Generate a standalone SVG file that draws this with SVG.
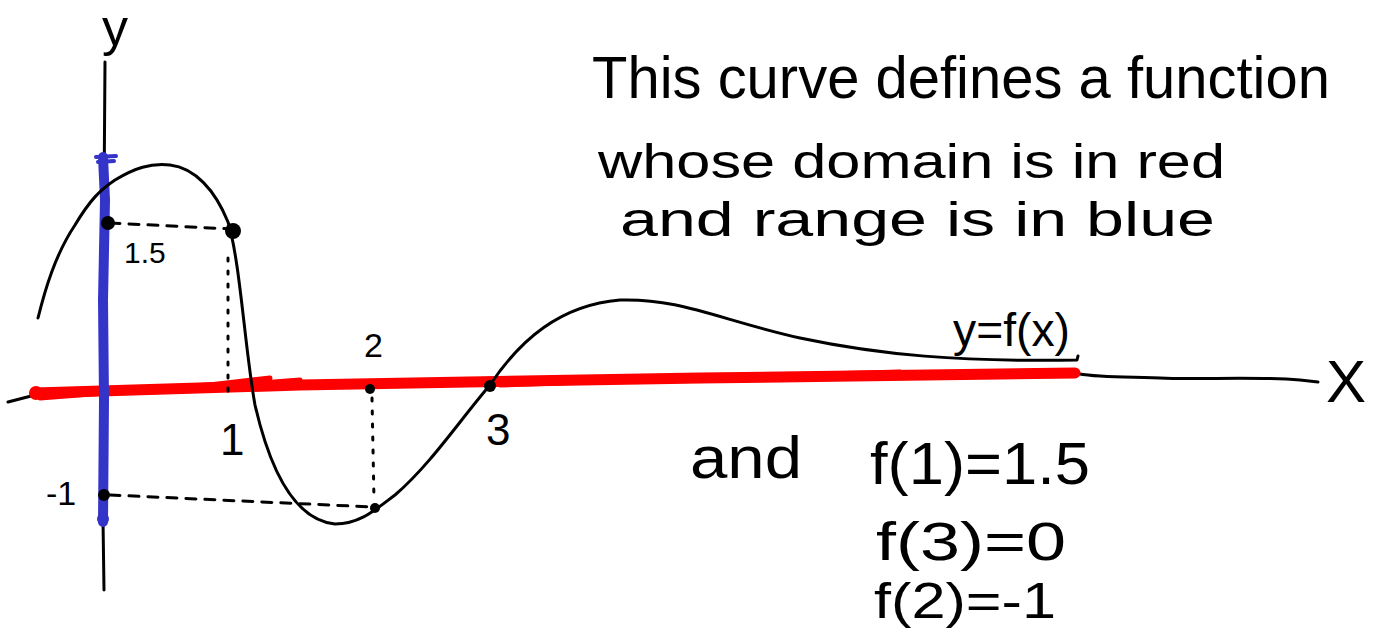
<svg xmlns="http://www.w3.org/2000/svg" width="1373" height="632" viewBox="0 0 1373 632">
<style>
.ink{fill:none;stroke:#000;stroke-width:3;stroke-linecap:round;stroke-linejoin:round}
.dash{fill:none;stroke:#000;stroke-width:3;stroke-dasharray:10 9;stroke-linecap:round}
.dot{fill:none;stroke:#000;stroke-width:3;stroke-dasharray:3 10;stroke-linecap:round}
.red{fill:none;stroke:#ff0000;stroke-linecap:round;stroke-linejoin:round}
.blue{fill:none;stroke:#3434c8;stroke-linecap:round;stroke-linejoin:round}
.pt{fill:#000}
.t{font-family:"Liberation Sans",Arial,sans-serif;fill:#000}
</style>
<rect width="1373" height="632" fill="#fff"/>
<g id="axes">
  <path class="ink" d="M105,62 L104,200 L104,400 L103,520 L104,590"/>
  <path class="ink" d="M8,402 L35,395 L300,388 L700,380 L1075,373 C1095,378 1120,376 1160,378 C1200,380 1250,376 1300,380 L1318,382"/>
</g>
<g id="domain">
  <path class="red" stroke-width="11" d="M35,393 L300,385 L700,378 L1075,373"/>
  <path class="red" stroke-width="5" d="M40,398 L260,381 M150,392 L270,378 M210,387 L300,380 M500,385 L760,376 M600,380 L900,372"/>
  <circle cx="36" cy="393" r="7" fill="#ff0000"/>
</g>
<g id="range">
  <path class="blue" stroke-width="10" d="M103,157 L105,200 L103,300 L104,400 L103,522"/>
  <path class="blue" stroke-width="4" d="M96,157 L116,156 M98,162 L114,161"/>
  <circle cx="103" cy="519" r="6" fill="#3434c8"/>
</g>
<g id="curve">
  <path class="ink" d="M38,318 C45,290 55,255 75,225 C90,200 100,190 115,180 C135,168 150,163 170,165 C195,168 215,190 228,222 C240,260 245,350 255,405 C270,470 295,520 335,524 C360,524 375,510 395,495 C430,465 460,420 490,385 C520,340 560,305 620,300 C680,298 720,320 800,338 C880,355 960,362 1077,360 L1078,356"/>
</g>
<g id="guides">
  <path class="dash" d="M110,223 L232,229"/>
  <path class="dot" d="M228,258 L228,400"/>
  <path class="dash" d="M110,495 L373,507"/>
  <path class="dot" d="M372,398 L374,500"/>
</g>
<g id="points">
  <circle class="pt" cx="108" cy="223" r="7"/>
  <circle class="pt" cx="233" cy="231" r="8"/>
  <circle class="pt" cx="104" cy="495" r="6"/>
  <circle class="pt" cx="375" cy="508" r="5"/>
  <circle class="pt" cx="370" cy="389" r="5"/>
  <circle class="pt" cx="490" cy="386" r="6"/>
</g>
<g id="labels" class="t">
  <text x="102" y="45" font-size="52">y</text>
  <text x="1326" y="402" font-size="60">X</text>
  <text x="124" y="263" font-size="30">1.5</text>
  <text x="220" y="455" font-size="44">1</text>
  <text x="364" y="357" font-size="34">2</text>
  <text x="486" y="445" font-size="44">3</text>
  <text x="46" y="505" font-size="34">-1</text>
  <text x="953" y="346" font-size="46" textLength="117" lengthAdjust="spacingAndGlyphs">y=f(x)</text>
</g>
<g id="note" class="t">
  <text x="592" y="98" font-size="60" textLength="738" lengthAdjust="spacingAndGlyphs">This curve defines a function</text>
  <text x="598" y="178" font-size="48" textLength="627" lengthAdjust="spacingAndGlyphs">whose domain is in red</text>
  <text x="620" y="236" font-size="48" textLength="595" lengthAdjust="spacingAndGlyphs">and range is in blue</text>
  <text x="690" y="478" font-size="60" textLength="112" lengthAdjust="spacingAndGlyphs">and</text>
  <text x="870" y="484" font-size="60" textLength="220" lengthAdjust="spacingAndGlyphs">f(1)=1.5</text>
  <text x="876" y="560" font-size="54" textLength="190" lengthAdjust="spacingAndGlyphs">f(3)=0</text>
  <text x="874" y="618" font-size="50" textLength="182" lengthAdjust="spacingAndGlyphs">f(2)=-1</text>
</g>
</svg>
